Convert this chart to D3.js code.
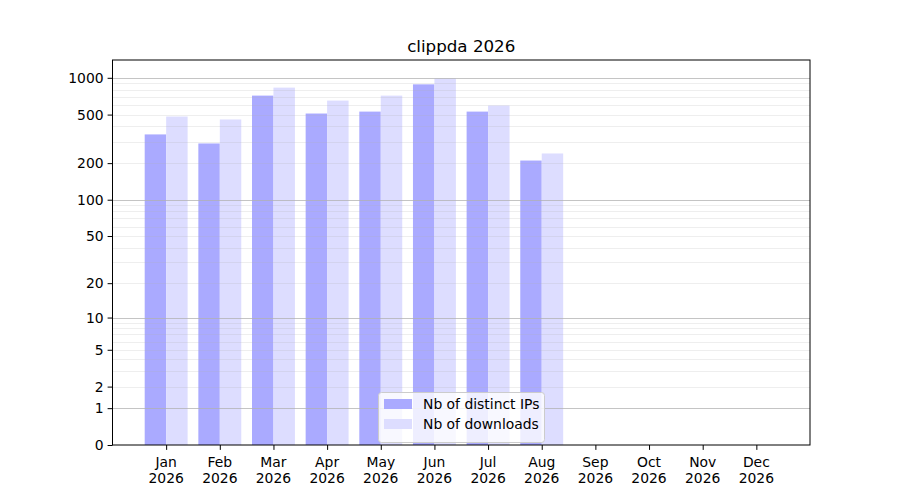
<!DOCTYPE html>
<html>
<head>
<meta charset="utf-8">
<script src="https://d3js.org/d3.v7.min.js"></script>
<style>
  body { margin: 0; background: #fff; }
  svg { font-family: "DejaVu Sans", sans-serif; }
</style>
</head>
<body>
<div id="chart"></div>
<script>
// data
var months = ["Jan", "Feb", "Mar", "Apr", "May", "Jun", "Jul", "Aug", "Sep", "Oct", "Nov", "Dec"];
var year = "2026";
var distinctIPs = [344, 290, 715, 510, 529, 884, 529, 210, null, null, null, null];
var downloads = [482, 456, 831, 651, 715, 990, 593, 240, null, null, null, null];
var yTicks = [0, 1, 2, 5, 10, 20, 50, 100, 200, 500, 1000];
var majorGrid = [1, 10, 100, 1000];
var minorGrid = [2, 3, 4, 5, 6, 7, 8, 9, 20, 30, 40, 50, 60, 70, 80, 90, 200, 300, 400, 500, 600, 700, 800, 900];

var W = 900, H = 500;
var margin = { top: 60, right: 90, bottom: 55, left: 112.5 };
var width = W - margin.left - margin.right,
    height = H - margin.top - margin.bottom;

var svg = d3.select("#chart").append("svg")
  .attr("width", W).attr("height", H);

var g = svg.append("g")
  .attr("transform", "translate(" + margin.left + "," + margin.top + ")");

// x: month index, bars of 0.4 each side of the tick
var x = d3.scaleLinear().domain([-1, 12]).range([0, width]);
var barW = 0.4;

// y: log10(1+v) style scale
var ymax = d3.max(downloads);
var y = d3.scaleSymlog().constant(1).range([height, 0]);
// 5% headroom in transformed space
var tTop = Math.log1p(ymax) * 1.05;
y.domain([0, Math.expm1(tTop)]);

// bars
g.selectAll("rect.ips")
  .data(distinctIPs.map(function(v, i) { return { i: i, v: v }; }).filter(function(d) { return d.v != null; }))
  .enter().append("rect")
  .attr("class", "ips")
  .attr("x", function(d) { return x(d.i - barW); })
  .attr("width", function(d) { return x(d.i) - x(d.i - barW); })
  .attr("y", function(d) { return y(d.v); })
  .attr("height", function(d) { return height - y(d.v); })
  .attr("fill", "#aaaaff");

g.selectAll("rect.dl")
  .data(downloads.map(function(v, i) { return { i: i, v: v }; }).filter(function(d) { return d.v != null; }))
  .enter().append("rect")
  .attr("class", "dl")
  .attr("x", function(d) { return x(d.i); })
  .attr("width", function(d) { return x(d.i + barW) - x(d.i); })
  .attr("y", function(d) { return y(d.v); })
  .attr("height", function(d) { return height - y(d.v); })
  .attr("fill", "#ddddff");

// grid on top of bars, like the original
g.selectAll("line.minor")
  .data(minorGrid).enter().append("line")
  .attr("x1", 0).attr("x2", width)
  .attr("y1", function(d) { return Math.round(y(d)) + 0.5; })
  .attr("y2", function(d) { return Math.round(y(d)) + 0.5; })
  .attr("stroke", "#b0b0b0").attr("stroke-opacity", 0.22).attr("stroke-width", 1);

g.selectAll("line.major")
  .data(majorGrid).enter().append("line")
  .attr("x1", 0).attr("x2", width)
  .attr("y1", function(d) { return Math.round(y(d)) + 0.5; })
  .attr("y2", function(d) { return Math.round(y(d)) + 0.5; })
  .attr("stroke", "#b0b0b0").attr("stroke-opacity", 0.75).attr("stroke-width", 1);

// frame
g.append("rect")
  .attr("x", 0).attr("y", 0).attr("width", width).attr("height", height)
  .attr("fill", "none").attr("stroke", "#000").attr("stroke-width", 1);

// y axis
var yAxis = g.append("g")
  .call(d3.axisLeft(y).tickValues(yTicks).tickSize(4.9).tickPadding(4).tickFormat(d3.format("d")));
yAxis.select(".domain").remove();
yAxis.selectAll("text").attr("font-size", "13.9px").attr("fill", "#000")
  .attr("font-family", "DejaVu Sans, sans-serif");

// x axis
var xAxis = g.append("g")
  .attr("transform", "translate(0," + height + ")")
  .call(d3.axisBottom(x).tickValues(d3.range(months.length)).tickSize(4.9).tickFormat(""));
xAxis.select(".domain").remove();

var xl = g.append("g").attr("transform", "translate(0," + height + ")");
months.forEach(function(m, i) {
  var t = xl.append("text")
    .attr("x", x(i)).attr("y", 22)
    .attr("text-anchor", "middle")
    .attr("font-size", "13.9px").attr("fill", "#000");
  t.append("tspan").attr("x", x(i)).text(m);
  t.append("tspan").attr("x", x(i)).attr("dy", 16).text(year);
});

// title
svg.append("text")
  .attr("x", margin.left + width / 2).attr("y", 52)
  .attr("text-anchor", "middle")
  .attr("font-size", "16.7px").attr("fill", "#000")
  .text("clippda " + year);

// legend
var legend = svg.append("g").attr("transform", "translate(378,392)");
legend.append("rect")
  .attr("x", 0.5).attr("y", 0.5).attr("width", 166).attr("height", 50)
  .attr("rx", 3).attr("fill", "#fff").attr("fill-opacity", 0.8)
  .attr("stroke", "#cccccc");
var entries = [
  { label: "Nb of distinct IPs", color: "#aaaaff" },
  { label: "Nb of downloads", color: "#ddddff" }
];
entries.forEach(function(e, i) {
  var cy = 12 + i * 20;
  legend.append("rect")
    .attr("x", 6).attr("y", cy - 5).attr("width", 28).attr("height", 10)
    .attr("fill", e.color);
  legend.append("text")
    .attr("x", 45).attr("y", cy + 5)
    .attr("font-size", "13.9px").attr("fill", "#000")
    .text(e.label);
});
</script>
</body>
</html>
